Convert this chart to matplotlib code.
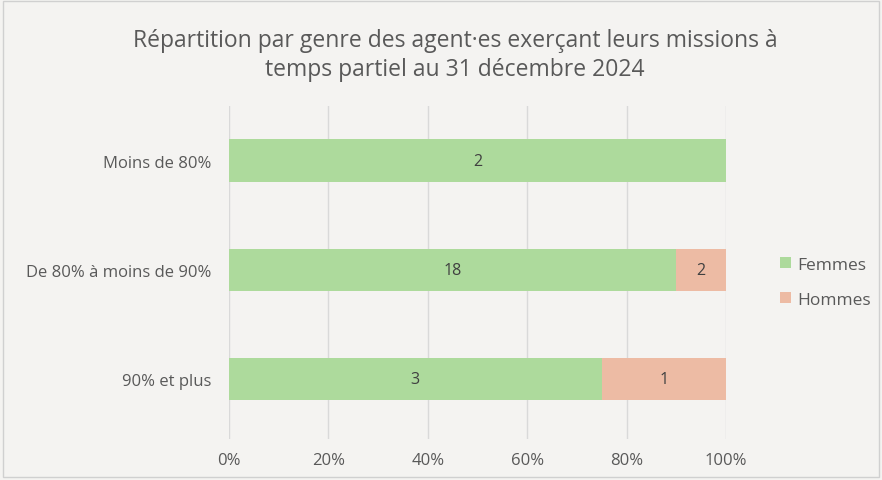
import numpy as np
import matplotlib.pyplot as plt
from matplotlib.patches import Rectangle

categories = ["Moins de 80%", "De 80% à moins de 90%", "90% et plus"]
femmes = [2, 18, 3]
hommes = [0, 2, 1]
title = "Répartition par genre des agent·es exerçant leurs missions à\ntemps partiel au 31 décembre 2024"

bg = "#F4F3F1"
txt = "#595959"
c_f = "#ADDA9C"
c_h = "#EDBBA4"

plt.rcParams['font.family'] = ['Open Sans', 'DejaVu Sans']

f = np.array(femmes, dtype=float)
h = np.array(hommes, dtype=float)
tot = f + h
pf = f / tot * 100
ph = h / tot * 100
y = np.arange(len(categories))

fig = plt.figure(figsize=(8.82, 4.81), dpi=100, facecolor=bg)
fig.patches.append(Rectangle((0.003, 0.006), 0.994, 0.99, transform=fig.transFigure,
                             fill=False, edgecolor="#D0D0D0", lw=1))
ax = fig.add_axes([0.2596, 0.0852, 0.5635, 0.6923])
ax.set_facecolor(bg)

bf = ax.barh(y, pf, height=0.39, color=c_f, label="Femmes", zorder=3)
bh = ax.barh(y, ph, left=pf, height=0.39, color=c_h, label="Hommes", zorder=3)

for i in range(len(y)):
    if f[i] > 0:
        ax.text(pf[i] / 2, y[i], str(femmes[i]), ha="center", va="center", fontsize=11.5, color="#404040", zorder=4)
    if h[i] > 0:
        ax.text(pf[i] + ph[i] / 2, y[i], str(hommes[i]), ha="center", va="center", fontsize=11.5, color="#404040", zorder=4)

ax.set_xlim(0, 100)
ax.set_ylim(2.55, -0.5)
ax.set_xticks(np.arange(0, 101, 20))
ax.set_xticklabels([f"{v}%" for v in range(0, 101, 20)])
ax.set_yticks(y)
ax.set_yticklabels(categories)
ax.tick_params(axis="both", length=0, labelsize=12, labelcolor=txt)
ax.tick_params(axis="x", pad=9)
ax.tick_params(axis="y", pad=13)
ax.grid(axis="x", color="#D9D9D9", lw=1, zorder=0)
for s in ax.spines.values():
    s.set_visible(False)

fig.text(0.516, 0.885, title, ha="center", va="center", fontsize=16.5, color=txt, linespacing=1.3)

ax.legend(loc="center left", bbox_to_anchor=(1.078, 0.47), frameon=False, fontsize=12.5,
          labelcolor=txt, handlelength=0.6, handleheight=0.6, handletextpad=0.35, labelspacing=1.1)

fig.savefig("out.png", dpi=100, facecolor=bg)
